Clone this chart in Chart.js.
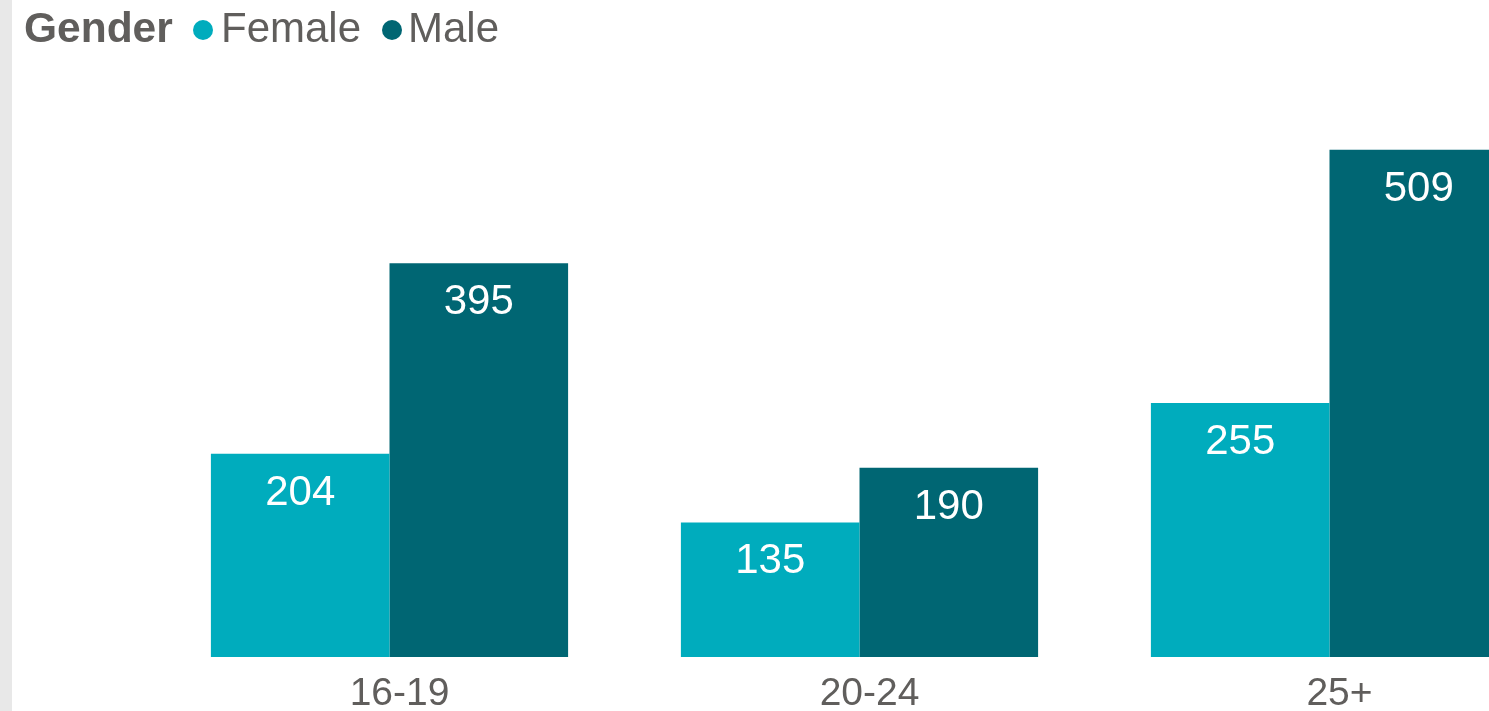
<!DOCTYPE html>
<html>
<head>
<meta charset="utf-8">
<script src="https://cdn.jsdelivr.net/npm/chart.js@4.4.1/dist/chart.umd.min.js"></script>
<style>
  html, body { margin:0; padding:0; background:#fff; overflow:hidden; width:1489px; height:711px; }
  #strip { position:absolute; left:0; top:0; width:12px; height:711px; background:#e8e8e8; }
  #wrap { position:absolute; left:0; top:0; width:1600px; height:711px; }
  .lg { position:absolute; font-family:"Liberation Sans", Arial, sans-serif; font-size:42px; line-height:42px; color:#605e5c; white-space:nowrap; }
  .dot { position:absolute; width:20px; height:20px; border-radius:50%; }
</style>
</head>
<body>
<div id="wrap"><canvas id="c" width="1600" height="711"></canvas></div>
<div id="strip"></div>
<div class="lg" style="left:24px; top:7px; font-weight:bold; font-size:42.5px;">Gender</div>
<div class="dot" style="left:193px; top:20px; background:#00acbd;"></div>
<div class="lg" style="left:221px; top:7px;">Female</div>
<div class="dot" style="left:382px; top:20px; background:#006673;"></div>
<div class="lg" style="left:408px; top:7px;">Male</div>
<script>
const categories = ["16-19", "20-24", "25+"];
const femaleValues = [204, 135, 255];
const maleValues = [395, 190, 509];
const seriesNames = ["Female", "Male"];

const valueLabels = {
  id: 'valueLabels',
  afterDatasetsDraw(chart) {
    const ctx = chart.ctx;
    ctx.save();
    ctx.font = '42px "Liberation Sans", Arial, sans-serif';
    ctx.fillStyle = '#ffffff';
    ctx.textAlign = 'center';
    ctx.textBaseline = 'alphabetic';
    chart.data.datasets.forEach((ds, di) => {
      const meta = chart.getDatasetMeta(di);
      meta.data.forEach((bar, i) => {
        ctx.fillText(String(ds.data[i]), bar.x, bar.y + 51);
      });
    });
    ctx.restore();
  }
};

new Chart(document.getElementById('c'), {
  type: 'bar',
  data: {
    labels: categories,
    datasets: [
      { label: seriesNames[0], data: femaleValues, backgroundColor: '#00acbd', barPercentage: 1, categoryPercentage: 0.76 },
      { label: seriesNames[1], data: maleValues, backgroundColor: '#006673', barPercentage: 1, categoryPercentage: 0.76 }
    ]
  },
  options: {
    responsive: false,
    animation: false,
    events: [],
    layout: { padding: { left: 154.5, right: 35.5, top: 79, bottom: 0 } },
    plugins: { legend: { display: false }, tooltip: { enabled: false } },
    scales: {
      y: { display: false, min: 0, max: 580 },
      x: {
        grid: { display: false, drawTicks: false },
        border: { display: false },
        ticks: { color: '#605e5c', font: { family: '"Liberation Sans", Arial, sans-serif', size: 39 }, padding: 14, labelOffset: 10, maxRotation: 0 },
        afterFit(scale) { scale.height = 54; }
      }
    }
  },
  plugins: [valueLabels]
});
</script>
</body>
</html>
